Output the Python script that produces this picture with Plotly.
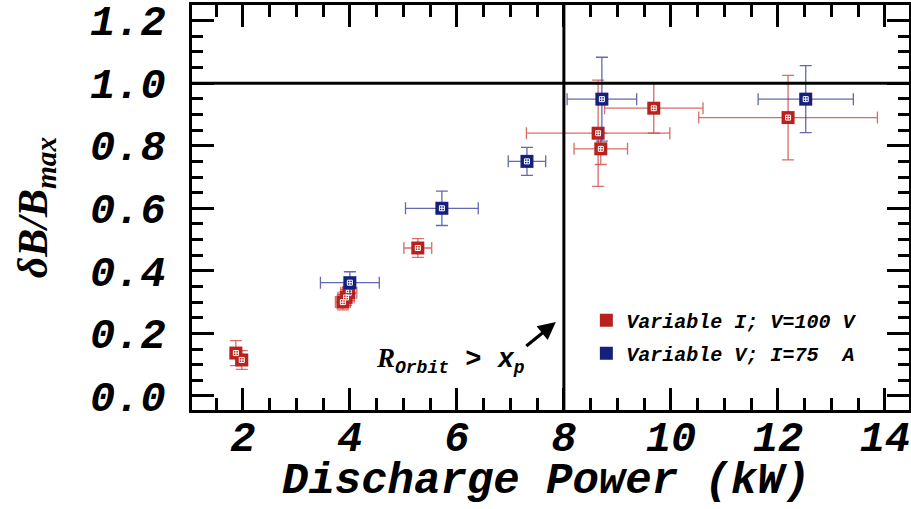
import plotly.graph_objects as go

# Variable discharge current, fixed V = 100 V
red_x = [1.87, 1.98, 3.87, 3.93, 3.98, 5.27, 8.64, 8.69, 9.68, 12.19]
red_y = [0.137, 0.115, 0.300, 0.315, 0.330, 0.473, 0.840, 0.790, 0.920, 0.890]
red_xerr = [0.10, 0.10, 0.14, 0.15, 0.15, 0.26, 1.34, 0.50, 0.92, 1.67]
red_yerr = [0.040, 0.030, 0.025, 0.025, 0.025, 0.030, 0.170, 0.050, 0.080, 0.135]

# Variable discharge voltage, fixed I = 75 A
blue_x = [4.00, 5.72, 7.31, 8.71, 12.52]
blue_y = [0.362, 0.600, 0.750, 0.949, 0.949]
blue_xerr = [0.55, 0.68, 0.35, 0.65, 0.89]
blue_yerr = [0.035, 0.055, 0.045, 0.134, 0.107]

x_ticks = [2, 4, 6, 8, 10, 12, 14]
y_ticks = [0.0, 0.2, 0.4, 0.6, 0.8, 1.0, 1.2]
x_limit = 8.0   # R_orbit > x_p boundary
y_limit = 1.0   # normalised maximum

RED = "#B8221E"
BLUE = "#14207A"
MONO = "Liberation Mono"
SERIF = "Liberation Serif"

fig = go.Figure()

series = [
    ("Variable I; V=100 V", red_x, red_y, red_xerr, red_yerr, RED, "rgba(200,60,55,0.75)"),
    ("Variable V; I=75  A", blue_x, blue_y, blue_xerr, blue_yerr, BLUE, "rgba(45,55,150,0.75)"),
]

for i, (name, xs, ys, xe, ye, col, ecol) in enumerate(series):
    fig.add_trace(go.Scatter(
        x=xs, y=ys, mode="markers", name=name, legendgroup=f"g{i}",
        marker=dict(symbol="square", size=13, color=col, line=dict(width=0)),
        error_x=dict(type="data", array=xe, color=ecol, thickness=1.3, width=6),
        error_y=dict(type="data", array=ye, color=ecol, thickness=1.3, width=6),
    ))
    fig.add_trace(go.Scatter(
        x=xs, y=ys, mode="markers", showlegend=False, hoverinfo="skip",
        marker=dict(symbol="square-cross-open", size=5, color="white",
                    line=dict(width=1, color="white")),
    ))

# Reference lines
fig.add_shape(type="line", xref="x", yref="paper", x0=x_limit, x1=x_limit, y0=0, y1=1,
              line=dict(color="black", width=3))
fig.add_shape(type="line", xref="paper", yref="y", x0=0, x1=1, y0=y_limit, y1=y_limit,
              line=dict(color="black", width=3))

# Orbit annotation with arrow
fig.add_annotation(x=7.85, y=0.236, ax=-31, ay=25, axref="pixel", ayref="pixel",
                   text="", showarrow=True, arrowhead=2, arrowsize=1.1,
                   arrowwidth=3.2, arrowcolor="black")
fig.add_annotation(
    x=5.88, y=0.112, xref="x", yref="y", showarrow=False,
    xanchor="center", yanchor="middle",
    text=("<span style='font-family:Liberation Serif'>R</span>"
          "<sub><span style='font-size:18px'>Orbit</span></sub>"
          " > x<sub><span style='font-size:18px'>p</span></sub>"),
    font=dict(family=MONO, size=27, color="black", weight="bold", style="italic"),
)

# x-axis title
fig.add_annotation(
    x=0.494, y=-0.176, xref="paper", yref="paper", showarrow=False,
    xanchor="center", yanchor="middle", text="Discharge Power (kW)",
    font=dict(family=MONO, size=44, color="black", weight="bold", style="italic"),
)

axis_common = dict(
    showline=True, linecolor="black", linewidth=3, mirror="allticks",
    ticks="inside", ticklen=22, tickwidth=2.5, tickcolor="black",
    showgrid=False, zeroline=False, automargin=False,
    tickfont=dict(family=MONO, size=42, color="black", weight="bold", style="italic"),
)

fig.update_xaxes(
    **axis_common, range=[1.05, 14.45], tickvals=x_ticks,
    minor=dict(ticks="inside", ticklen=12, tickwidth=2.5, tickcolor="black", dtick=0.5),
    ticklabelstandoff=-12,
)
fig.update_yaxes(
    **axis_common, range=[-0.045, 1.25], tickvals=y_ticks, tickformat=".1f",
    minor=dict(ticks="inside", ticklen=11, tickwidth=2.5, tickcolor="black", dtick=0.05),
    ticklabelstandoff=15,
    title=dict(text="δB/B<sub>max</sub>", standoff=30,
               font=dict(family=SERIF, size=42, color="black", weight="bold", style="italic")),
)

fig.update_layout(
    width=911, height=509,
    margin=dict(l=192, r=2, t=5, b=99),
    plot_bgcolor="white", paper_bgcolor="white",
    legend=dict(x=0.55, y=0.27, xanchor="left", yanchor="top",
                bgcolor="rgba(0,0,0,0)", tracegroupgap=4,
                font=dict(family=MONO, size=20, color="black", weight="bold", style="italic")),
    showlegend=True,
)

fig.write_html("out.html")
